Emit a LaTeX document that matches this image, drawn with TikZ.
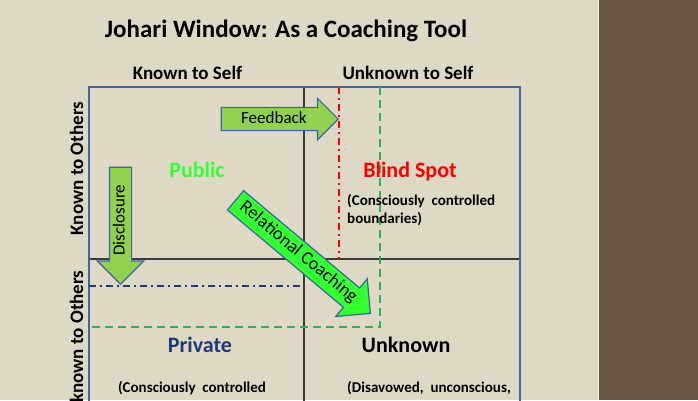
\documentclass[tikz,border=0pt]{standalone}
\usepackage{fontspec}
\setmainfont{Carlito}
\usetikzlibrary{shapes.arrows}
\definecolor{tanbg}{HTML}{DDD9C4}
\definecolor{brownbar}{HTML}{6A5644}
\definecolor{frameblue}{HTML}{3D65A0}
\definecolor{gridgray}{HTML}{3A3A3A}
\definecolor{leafgreen}{HTML}{92D050}
\definecolor{limegreen}{HTML}{33FF33}
\definecolor{dashgreen}{HTML}{2BB35A}
\definecolor{privnavy}{HTML}{1F3A78}
\tikzset{
	heading/.style={font=\fontsize{19}{22}\selectfont\bfseries, anchor=base, inner sep=0pt},
	quadname/.style={font=\fontsize{22}{26}\selectfont\bfseries, anchor=base, inner sep=0pt},
	remark/.style={font=\fontsize{15}{18.5}\selectfont\bfseries, inner sep=0pt},
	bigarrow/.style={single arrow, draw=frameblue, line width=1.2pt, font=\fontsize{17}{20}\selectfont,
		text height=11.5pt, text depth=3.5pt, inner xsep=2pt, single arrow head indent=0pt, anchor=tip},
	gridline/.style={gridgray, line width=1.5pt},
	boundary/.style={line width=2pt}
}
\begin{document}
\begin{tikzpicture}[x=1pt, y=-1pt]
	\useasboundingbox (0,0) rectangle (698,400);
	\clip (0,0) rectangle (698,400);
	\fill[tanbg] (0,0) rectangle (599,400);
	\fill[brownbar] (599,0) rectangle (698,400);
	\draw[white!60!tanbg, line width=0.8pt] (598.6,0) -- (598.6,400);

	\node[font=\fontsize{25}{29}\selectfont\bfseries, anchor=base] (title) at (286,37) {Johari Window: As a Coaching Tool};
	\node[heading] (selfknown) at (187.5,79) {Known to Self};
	\node[heading] (selfunknown) at (408,79) {Unknown to Self};
	\node[heading, rotate=90] (othersknown) at (83,168.5) {Known to Others};
	\node[heading, rotate=90] (othersunknown) at (83,348) {Unknown to Others};

	\draw[gridline] (89,259) -- (520,259);
	\draw[gridline] (304,87) -- (304,410);
	\draw[frameblue, line width=2pt] (89,87) rectangle (520,410);

	\node[bigarrow, fill=leafgreen, minimum height=117pt, single arrow head extend=9pt, inner ysep=3.5pt] (feedback) at (339,119) {Feedback};
	\node[bigarrow, fill=leafgreen, rotate=90, shape border rotate=180, minimum height=117pt, single arrow head extend=12pt, inner ysep=3pt] (disclosure) at (120.5,285) {Disclosure};
	\node[bigarrow, fill=limegreen, rotate=-40, minimum height=176pt, single arrow head extend=12pt, font=\fontsize{18.5}{22}\selectfont,
		text height=12.5pt, text depth=4pt, inner ysep=3.75pt] (coaching) at (371,314) {Relational Coaching};

	\draw[boundary, red, dash pattern=on 7pt off 4pt on 2pt off 4pt] (339,87) -- (339,259);
	\draw[boundary, dashgreen, dash pattern=on 8pt off 5pt] (380,87) -- (380,327) -- (89,327);
	\draw[boundary, privnavy, dash pattern=on 7pt off 4pt on 2pt off 4pt] (89,286) -- (300,286);

	\node[quadname, limegreen] (public) at (197,177) {Public};
	\node[quadname, red] (blind) at (410,177) {Blind Spot};
	\node[remark, anchor=base west] (blindnote) at (347,205) {(Consciously~ controlled};
	\node[remark, anchor=base west] (blindnote2) at (347,223) {boundaries)};
	\node[quadname, privnavy] (private) at (200,352) {Private};
	\node[quadname] (unknown) at (406,352) {Unknown};
	\node[remark, anchor=base] (privatenote) at (192,392) {(Consciously~ controlled};
	\node[remark, anchor=base west] (unknownnote) at (347,392) {(Disavowed,~ unconscious,};
\end{tikzpicture}
\end{document}
